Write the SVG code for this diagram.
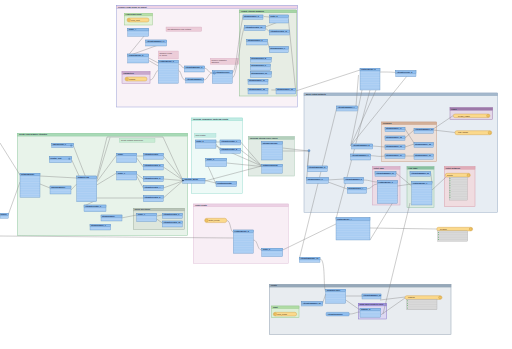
<svg xmlns="http://www.w3.org/2000/svg" width="512" height="349" viewBox="0 0 512 349">
<defs>
<pattern id="rows" patternUnits="userSpaceOnUse" width="8" height="2.4"><rect width="8" height="2.4" fill="#a9cdf3"/><line x1="0" y1="2.3" x2="8" y2="2.3" stroke="#d6e8fa" stroke-width="0.3"/></pattern>
<pattern id="attr" patternUnits="userSpaceOnUse" width="8" height="2.4"><rect width="8" height="2.4" fill="#d9d9d9"/><line x1="0" y1="2.3" x2="8" y2="2.3" stroke="#b0b0b0" stroke-width="0.25"/></pattern>
</defs>
<style>
.bk{stroke-width:.5}
.bt{font:bold 1.9px "Liberation Sans",sans-serif;fill:#203040}
.b{fill:url(#rows);stroke:#5f8fc0;stroke-width:.35}
.h{fill:#8ebdee;stroke:#5f8fc0;stroke-width:.35}
.n text{font:bold 1.8px "Liberation Sans",sans-serif;fill:#0c2448}
.y{fill:#fbd98c;stroke:#cf9c44;stroke-width:.4}
.yc{fill:#f2c464;stroke:#b88a30;stroke-width:.3}
.al{fill:url(#attr);stroke:#a0a0a0;stroke-width:.3}
.an text{font:1.8px "Liberation Sans",sans-serif;fill:#503040}
.yt{font:1.8px "Liberation Sans",sans-serif;fill:#503010}
.c path{fill:none;stroke:#808080;stroke-width:.4}
</style>

<!-- bookmarks -->
<g id="bm-top">
<rect class="bk" x="116.3" y="5.7" width="181" height="101.3" fill="#f9f2f7" stroke="#9aa0d8"/>
<rect x="116.3" y="5.7" width="181" height="2.8" fill="#eed2e6" stroke="#9aa0d8" stroke-width=".4"/>
<text class="bt" x="118" y="7.8">Prepare Flows Ready for Export</text>
</g>
<g id="bm-top-green">
<rect class="bk" x="239.3" y="10" width="57.4" height="86" fill="#e7ede4" stroke="#8fc090"/>
<rect x="239.3" y="10" width="57.4" height="2.8" fill="#a6d6a6" stroke="#8fc090" stroke-width=".4"/>
<text class="bt" x="241" y="12">Output Attribute Mapping</text>
</g>
<g id="bm-top-reader1">
<rect class="bk" x="124.3" y="13.3" width="28" height="11.7" fill="#e2f2d8" stroke="#9cc890"/>
<rect x="124.3" y="13.3" width="28" height="2.6" fill="#b8e0a8" stroke="#9cc890" stroke-width=".4"/>
<text class="bt" x="125.5" y="15.3">Flow Export Input</text>
</g>
<g id="bm-top-reader2">
<rect class="bk" x="122" y="71.7" width="28" height="11.6" fill="#eadcec" stroke="#b890c0"/>
<rect x="122" y="71.7" width="28" height="2.6" fill="#c8a8cc" stroke="#b890c0" stroke-width=".4"/>
<text class="bt" x="123.5" y="73.7">Parameters</text>
</g>
<g id="bm-left">
<rect class="bk" x="17.3" y="133.3" width="170.4" height="102" fill="#e8f3ea" stroke="#90c8a0"/>
<rect x="17.3" y="133.3" width="170.4" height="2.8" fill="#a8dab6" stroke="#90c8a0" stroke-width=".4"/>
<text class="bt" x="19" y="135.4">Create Flow Network Attributes</text>
</g>
<g id="bm-left-inner">
<rect class="bk" x="133.3" y="208.3" width="51" height="21" fill="#dde6dc" stroke="#a0b0a0"/>
<rect x="133.3" y="208.3" width="51" height="2.6" fill="#b8c4b8" stroke="#a0b0a0" stroke-width=".4"/>
<text class="bt" x="134.5" y="210.3">Check Directions</text>
</g>
<g id="bm-cyan">
<rect class="bk" x="191.3" y="118" width="51" height="75.3" fill="#eefaf7" stroke="#98dcd0"/>
<rect x="191.3" y="118" width="51" height="2.8" fill="#c2ece4" stroke="#98dcd0" stroke-width=".4"/>
<text class="bt" x="193" y="120">Calculate Cumulative Upstream Length</text>
</g>
<g id="bm-greygreen">
<rect class="bk" x="248.3" y="136.7" width="46" height="39.3" fill="#e2ebe5" stroke="#a8c8b4"/>
<rect x="248.3" y="136.7" width="46" height="2.8" fill="#b4d0bc" stroke="#a8c8b4" stroke-width=".4"/>
<text class="bt" x="250" y="138.7">Calculate Stream Order Values</text>
</g>
<g id="bm-pink">
<rect class="bk" x="193.3" y="204" width="95" height="59.3" fill="#f8eef5" stroke="#e0c0d8"/>
<rect x="193.3" y="204" width="95" height="2.8" fill="#ecd0e4" stroke="#e0c0d8" stroke-width=".4"/>
<text class="bt" x="195" y="206">Outlet Points</text>
</g>
<g id="bm-right">
<rect class="bk" x="304" y="93" width="193.7" height="119.3" fill="#e7edf3" stroke="#98acc4"/>
<rect x="304" y="93" width="193.7" height="2.8" fill="#a4b8cc" stroke="#98acc4" stroke-width=".4"/>
<text class="bt" x="306" y="95">Build Output Datasets</text>
</g>
<g id="bm-r-purple">
<rect class="bk" x="450" y="107.7" width="42.7" height="11.6" fill="#e4d8e8" stroke="#a080b0"/>
<rect x="450" y="107.7" width="42.7" height="2.6" fill="#9c78a8" stroke="#a080b0" stroke-width=".4"/>
<text class="bt" x="451.5" y="109.7">Lines</text>
</g>
<g id="bm-r-brown">
<rect class="bk" x="381.7" y="122" width="55" height="39.7" fill="#ece0da" stroke="#c8a088"/>
<rect x="381.7" y="122" width="55" height="2.6" fill="#d4b098" stroke="#c8a088" stroke-width=".4"/>
<text class="bt" x="383" y="124">Polygons</text>
</g>
<g id="bm-r-pink">
<rect class="bk" x="372.3" y="166.7" width="27.7" height="38.3" fill="#ecdce6" stroke="#d0a8c0"/>
<rect x="372.3" y="166.7" width="27.7" height="2.6" fill="#dcb4cc" stroke="#d0a8c0" stroke-width=".4"/>
<text class="bt" x="373.5" y="168.7">Outlet Tags</text>
</g>
<g id="bm-r-green">
<rect class="bk" x="407" y="166.7" width="27" height="40.6" fill="#dcebe2" stroke="#90c0a4"/>
<rect x="407" y="166.7" width="27" height="2.6" fill="#88c0a0" stroke="#90c0a4" stroke-width=".4"/>
<text class="bt" x="408.5" y="168.7">Line Tags</text>
</g>
<g id="bm-r-red">
<rect class="bk" x="444.3" y="166.7" width="30.7" height="40" fill="#f0dce0" stroke="#d8a0ac"/>
<rect x="444.3" y="166.7" width="30.7" height="2.6" fill="#e0acb8" stroke="#d8a0ac" stroke-width=".4"/>
<text class="bt" x="445.5" y="168.7">Outlet Networks</text>
</g>
<g id="bm-bottom">
<rect class="bk" x="269.3" y="284.3" width="181.7" height="50" fill="#e8ecf0" stroke="#90a0b0"/>
<rect x="269.3" y="284.3" width="181.7" height="2.8" fill="#96a8ba" stroke="#90a0b0" stroke-width=".4"/>
<text class="bt" x="271" y="286.4">Points</text>
</g>
<g id="bm-b-green">
<rect class="bk" x="271.7" y="306" width="27.3" height="11.7" fill="#dcefd6" stroke="#98c890"/>
<rect x="271.7" y="306" width="27.3" height="2.6" fill="#b0dca4" stroke="#98c890" stroke-width=".4"/>
<text class="bt" x="273" y="308">Input</text>
</g>
<g id="bm-b-purple">
<rect class="bk" x="358.3" y="303.3" width="28.4" height="15.7" fill="#ddd8f2" stroke="#8878c8"/>
<rect x="358.3" y="303.3" width="28.4" height="2.6" fill="#a898e0" stroke="#8878c8" stroke-width=".4"/>
<text class="bt" x="359.5" y="305.3">Snap Input Points to Lines</text>
</g>

<!-- annotations -->
<g id="an1" class="an"><rect x="166" y="27" width="35.7" height="4.3" fill="#ecccd8" stroke="#d0a0b8" stroke-width=".3"/><text x="167.5" y="29.8">Set attributes to Flow network</text></g>
<g id="an2" class="an"><rect x="158.3" y="51" width="20" height="8" fill="#ecccd8" stroke="#d0a0b8" stroke-width=".3"/><text x="159.5" y="53.8">Combine Flows</text><text x="159.5" y="56.3">by Group</text></g>
<g id="an3" class="an"><rect x="210.3" y="58.3" width="28.4" height="6" fill="#ecccd8" stroke="#d0a0b8" stroke-width=".3"/><text x="211.5" y="60.8">Remove unwanted</text><text x="211.5" y="63">attributes</text></g>
<g id="an4" class="an"><rect x="119.3" y="138.3" width="35.7" height="4" fill="#c8ecd4" stroke="#98d0ac" stroke-width=".3"/><text x="121" y="141">Create network connectivity</text></g>
<g id="an5" class="an"><rect x="194.3" y="133.3" width="21.7" height="4" fill="#c4ece4" stroke="#98d8cc" stroke-width=".3"/><text x="195.5" y="136">Sum lengths</text></g>

<!-- connectors -->
<g id="connectors" class="c">
<path d="M149,30 L127.7,56"/>
<path d="M166.7,42 L127.7,56"/>
<path d="M148.7,58 L158.3,63"/>
<path d="M148.7,60.5 L158.3,66"/>
<path d="M150,80 C154,80 155,72 158.3,70"/>
<path d="M178.3,64 C182,64 181,68 184.3,68"/>
<path d="M178.3,70 C182,72 181,80 185.7,80"/>
<path d="M204.3,68 C208,68 208,73 212.3,73"/>
<path d="M203.7,80 C208,80 208,73 212.3,73"/>
<path d="M232.3,73 C236,73 238,40 243,16.5"/>
<path d="M232.3,78 C237,76 240,40 244.3,27"/>
<path d="M264,16.5 L269.3,17"/>
<path d="M265.3,27 L288.3,18"/>
<path d="M265.3,28 L269.3,31.5"/>
<path d="M267.4,41 L269.3,48"/>
<path d="M288.3,19 L295.5,89"/>
<path d="M271.3,90 L276,90"/>
<path d="M295.7,91 L360,70"/>
<path d="M380,72 C388,72 390,72 395.7,72.5"/>
<path d="M358.5,75 L356,106"/>
<path d="M376,90 L350.7,145.7"/>
<path d="M407,76 L350.7,145.7"/>
<path d="M362,90 L350.7,145.7"/>
<path d="M336.7,108 L299.3,259"/>
<path d="M370,90 L336,219"/>
<path d="M320,259 C326,259 323,290 325.7,291"/>
<path d="M282.7,151 L309,151"/>
<path d="M282.7,148 L309,151"/>
<path d="M309,151 L307.3,167"/>
<path d="M309,151 L306.7,179"/>
<path d="M327.3,180 L344,179"/>
<path d="M328,182 L347.3,189"/>
<path d="M363.3,180 C370,180 372,182 377.3,182"/>
<path d="M366.7,189 C372,189 372,184 377.3,184"/>
<path d="M396,173 L411.7,186"/>
<path d="M397.3,186 L411.7,184"/>
<path d="M430.7,173 L432,183"/>
<path d="M432,190 L449.3,174"/>
<path d="M405,129 L414,143"/>
<path d="M405,138 L414,130"/>
<path d="M405,147 L414,144"/>
<path d="M405,156 L414,156"/>
<path d="M433.3,130 L455,132.5"/>
<path d="M433.3,129 L453.3,115.5"/>
<path d="M370.7,155.7 C376,155.7 378,157 385,156"/>
<path d="M372.7,146 L385,147"/>
<path d="M397.3,195 L370,240"/>
<path d="M370,228 L436.7,229"/>
<path d="M282.7,250 L336,224"/>
<path d="M410,203 L383,314"/>
<path d="M380,300 L405,297"/>
<path d="M345.7,296 L362,296"/>
<path d="M345.7,300 L360,310"/>
<path d="M322.7,303 L325.7,294"/>
<path d="M349.3,314 C355,314 356,312 360,312"/>
<path d="M380.7,315 L405,298"/>
<path d="M226.7,220.5 C231,220.5 230,232 233.3,232"/>
<path d="M253.3,240 C258,240 257,250 261.7,250"/>
<path d="M0,236 L233.3,238"/>
<path d="M0,143 L20,175"/>
<path d="M8.3,214.5 L20,182"/>
<path d="M40,176 L76.7,178"/>
<path d="M40,184 L50,188"/>
<path d="M71,190 L76.7,184"/>
<path d="M73.3,145.5 L86,178"/>
<path d="M71.6,159.7 L80,178"/>
<path d="M96.7,182 L116.7,155"/>
<path d="M96.7,185 L116.7,173"/>
<path d="M136.7,156 L143.3,156"/>
<path d="M136.7,158 L143.3,167"/>
<path d="M136.7,174 L143.3,179"/>
<path d="M136.7,176 L143.3,188"/>
<path d="M96.7,179 L107,137 L163,137 L182.7,180"/>
<path d="M96.7,181 L110,137.5"/>
<path d="M163.3,156 L182.7,180"/>
<path d="M163.3,167 L182.7,180"/>
<path d="M163.3,179 L182.7,180.5"/>
<path d="M163.3,188 L182.7,181"/>
<path d="M163.3,198 L182.7,181"/>
<path d="M96.7,198 L143.3,198"/>
<path d="M96.7,200 L84,206"/>
<path d="M111,220 L136.7,215"/>
<path d="M156.7,216 L162.3,215"/>
<path d="M156.7,219 L162.3,223"/>
<path d="M205,180.5 L216,183"/>
<path d="M205,181 L261.7,166"/>
<path d="M216,142 L220,142"/>
<path d="M216,144 L220,150"/>
<path d="M216,146 L261.7,166"/>
<path d="M240.7,142 L261.7,166"/>
<path d="M240.7,150 L261.7,166"/>
<path d="M226.7,163 L261.7,166.5"/>
<path d="M216,184 L205.7,161"/>
</g>

<!-- transformers -->
<g id="t-top-1" class="n" transform="translate(127.7,28.3)"><rect class="b" width="21" height="8"/><rect class="h" width="21" height="2.6"/><text x="1" y="2">Tester_4</text></g>
<g id="t-top-2" class="n" transform="translate(145.7,40)"><rect class="b" width="21" height="6"/><rect class="h" width="21" height="2.6"/><text x="1" y="2">AttributeManager_14</text></g>
<g id="t-top-3" class="n" transform="translate(127.7,54)"><rect class="b" width="21" height="9"/><rect class="h" width="21" height="2.6"/><text x="1" y="2">FeatureMerger_2</text></g>
<g id="t-top-4" class="n" transform="translate(158.3,60.3)"><rect class="b" width="20" height="23"/><rect class="h" width="20" height="2.6"/><text x="1" y="2">FeatureMerger_3</text></g>
<g id="t-top-5" class="n" transform="translate(184.3,66)"><rect class="b" width="20" height="6"/><rect class="h" width="20" height="2.6"/><text x="1" y="2">AttributeManager_3</text></g>
<g id="t-top-6" class="n" transform="translate(185.7,78)"><rect class="b" width="18" height="5"/><rect class="h" width="18" height="2.6"/><text x="1" y="2">AttributeManager_4</text></g>
<g id="t-top-7" class="n" transform="translate(212.3,70.7)"><rect class="b" width="20" height="12.7"/><rect class="h" width="20" height="2.6"/><text x="3.5" y="2">AttributeKeeper</text><circle cx="2" cy="2.3" r="1.2" fill="#6fa0d8" stroke="#3a6ea8" stroke-width=".3"/></g>
<g id="t-g-1" class="n" transform="translate(243,15)"><rect class="b" width="20" height="4.5"/><rect class="h" width="20" height="2.4"/><text x="1" y="1.9">StringReplacer_2</text></g>
<g id="t-g-2" class="n" transform="translate(269.3,15)"><rect class="b" width="19" height="8"/><rect class="h" width="19" height="2.4"/><text x="1" y="1.9">Tester_5</text></g>
<g id="t-g-3" class="n" transform="translate(244.3,25.7)"><rect class="b" width="21" height="5"/><rect class="h" width="21" height="2.4"/><text x="1" y="1.9">AttributeCreator_10</text></g>
<g id="t-g-4" class="n" transform="translate(269.3,30)"><rect class="b" width="20" height="5"/><rect class="h" width="20" height="2.4"/><text x="1" y="1.9">AttributeCreator_11</text></g>
<g id="t-g-5" class="n" transform="translate(246.7,39.3)"><rect class="b" width="20.7" height="5.7"/><rect class="h" width="20.7" height="2.4"/><text x="1" y="1.9">StringReplacer_6</text></g>
<g id="t-g-6" class="n" transform="translate(269.3,46.7)"><rect class="b" width="19" height="6"/><rect class="h" width="19" height="2.4"/><text x="1" y="1.9">StringReplacer_7</text></g>
<g id="t-g-7" class="n" transform="translate(250.3,57.3)"><rect class="b" width="21" height="5"/><rect class="h" width="21" height="2.4"/><text x="1" y="1.9">StringReplacer_8</text></g>
<g id="t-g-8" class="n" transform="translate(250.3,64)"><rect class="b" width="20" height="6.7"/><rect class="h" width="20" height="2.4"/><text x="1" y="1.9">StringReplacer_9</text></g>
<g id="t-g-9" class="n" transform="translate(250.3,71.7)"><rect class="b" width="21" height="5.7"/><rect class="h" width="21" height="2.4"/><text x="1" y="1.9">StringReplacer_10</text></g>
<g id="t-g-10" class="n" transform="translate(248,79.3)"><rect class="b" width="20" height="5"/><rect class="h" width="20" height="2.4"/><text x="1" y="1.9">StringReplacer_11</text></g>
<g id="t-g-11" class="n" transform="translate(248,88.3)"><rect class="b" width="20" height="5.7"/><rect class="h" width="20" height="2.4"/><text x="1" y="1.9">StringReplacer_12</text></g>
<g id="t-g-12" class="n" transform="translate(276,88.3)"><rect class="b" width="19.7" height="5.7"/><rect class="h" width="19.7" height="2.4"/><text x="1" y="1.9">StringReplacer_13</text></g>

<g id="t-tr-1" class="n" transform="translate(360,68.3)"><rect class="b" width="20" height="21.7"/><rect class="h" width="20" height="2.6"/><text x="1" y="2">FeatureMerger_5</text></g>
<g id="t-tr-2" class="n" transform="translate(395.7,70.7)"><rect class="b" width="20.3" height="6"/><rect class="h" width="20.3" height="2.6"/><text x="1" y="2">AttributeKeeper_2</text></g>

<g id="t-r-1" class="n" transform="translate(336.7,106)"><rect class="b" width="20.7" height="5"/><rect class="h" width="20.7" height="2.4"/><text x="1" y="1.9">AttributeManager_7</text></g>
<g id="t-r-2" class="n" transform="translate(351.7,144)"><rect class="b" width="21" height="5"/><rect class="h" width="21" height="2.4"/><text x="1" y="1.9">AttributeManager_8</text></g>
<g id="t-r-3" class="n" transform="translate(350.7,154)"><rect class="b" width="20" height="6"/><rect class="h" width="20" height="2.4"/><text x="1" y="1.9">AttributeManager_9</text></g>
<g id="t-r-4" class="n" transform="translate(307.3,166)"><rect class="b" width="20" height="5.7"/><rect class="h" width="20" height="2.4"/><text x="1" y="1.9">AttributeManager_5</text></g>
<g id="t-r-5" class="n" transform="translate(306.7,177.7)"><rect class="b" width="21.7" height="5.7"/><rect class="h" width="21.7" height="2.4"/><text x="1" y="1.9">StringReplacer_3</text></g>
<g id="t-r-6" class="n" transform="translate(344,177.7)"><rect class="b" width="19.3" height="5.7"/><rect class="h" width="19.3" height="2.4"/><text x="1" y="1.9">AttributeManager_6</text></g>
<g id="t-r-7" class="n" transform="translate(347.3,187.3)"><rect class="b" width="19.3" height="6"/><rect class="h" width="19.3" height="2.4"/><text x="1" y="1.9">StringReplacer_4</text></g>
<g id="junction-1" class="n"><circle cx="309" cy="150.7" r="1.1" fill="#6fa0d8" stroke="#3a6ea8" stroke-width=".3"/></g>
<g id="t-br-1" class="n" transform="translate(385,127.3)"><rect class="b" width="20" height="4.5"/><rect class="h" width="20" height="2.4"/><text x="1" y="1.9">StringReplacer_14</text></g>
<g id="t-br-2" class="n" transform="translate(385,136)"><rect class="b" width="20" height="4.5"/><rect class="h" width="20" height="2.4"/><text x="1" y="1.9">StringReplacer_15</text></g>
<g id="t-br-3" class="n" transform="translate(385,145)"><rect class="b" width="20" height="4.5"/><rect class="h" width="20" height="2.4"/><text x="1" y="1.9">StringReplacer_16</text></g>
<g id="t-br-4" class="n" transform="translate(385,154)"><rect class="b" width="20" height="4.5"/><rect class="h" width="20" height="2.4"/><text x="1" y="1.9">StringReplacer_17</text></g>
<g id="t-br-5" class="n" transform="translate(414,128.3)"><rect class="b" width="19.3" height="5"/><rect class="h" width="19.3" height="2.4"/><text x="1" y="1.9">AttributeManager_10</text></g>
<g id="t-br-6" class="n" transform="translate(414,142.7)"><rect class="b" width="19.3" height="4.7"/><rect class="h" width="19.3" height="2.4"/><text x="1" y="1.9">StringReplacer_18</text></g>
<g id="t-br-7" class="n" transform="translate(414,154)"><rect class="b" width="19.3" height="5.3"/><rect class="h" width="19.3" height="2.4"/><text x="1" y="1.9">StringReplacer_19</text></g>
<g id="t-pk-1" class="n" transform="translate(375,171.7)"><rect class="b" width="21" height="4.5"/><rect class="h" width="21" height="2.4"/><text x="1" y="1.9">AttributeManager_11</text></g>
<g id="t-pk-2" class="n" transform="translate(377.3,180.7)"><rect class="b" width="20" height="22.7"/><rect class="h" width="20" height="2.4"/><text x="1" y="1.9">FeatureMerger_6</text></g>
<g id="t-gr-1" class="n" transform="translate(410,171.7)"><rect class="b" width="20.7" height="4.5"/><rect class="h" width="20.7" height="2.4"/><text x="1" y="1.9">AttributeManager_12</text></g>
<g id="t-gr-2" class="n" transform="translate(411.7,181.7)"><rect class="b" width="20.3" height="23.3"/><rect class="h" width="20.3" height="2.4"/><text x="1" y="1.9">FeatureMerger_7</text></g>

<g id="t-mid-1" class="n" transform="translate(336,217.7)"><rect class="b" width="34" height="22.3"/><rect class="h" width="34" height="2.6"/><text x="1" y="2">FeatureMerger_4</text></g>
<g id="t-mid-2" class="n" transform="translate(299.3,257.3)"><rect class="b" width="20.7" height="5"/><rect class="h" width="20.7" height="2.4"/><text x="1" y="1.9">AttributeManager_13</text></g>

<g id="t-b-1" class="n" transform="translate(325.7,289.3)"><rect class="b" width="20" height="14"/><rect class="h" width="20" height="2.4"/><text x="1" y="1.9">NeighborFinder</text></g>
<g id="t-b-2" class="n" transform="translate(301.7,301.7)"><rect class="b" width="21" height="4.3"/><rect class="h" width="21" height="2.4"/><text x="1" y="1.9">AttributeManager_15</text></g>
<g id="t-b-3" class="n" transform="translate(362,294)"><rect class="b" width="19" height="5"/><rect class="h" width="19" height="2.4"/><text x="1" y="1.9">AttributeManager_16</text></g>
<g id="t-b-4" class="n" transform="translate(326,312.3)"><rect class="h" width="23.3" height="3.7" rx="1.2"/><text x="1.5" y="2.5">AttributeRemover</text></g>
<g id="t-b-5" class="n" transform="translate(360,308.3)"><rect class="b" width="20.7" height="9"/><rect class="h" width="20.7" height="2.4"/><text x="1" y="1.9">Snapper_2</text></g>

<g id="t-pl-1" class="n" transform="translate(233.3,230)"><rect class="b" width="20" height="23.3"/><rect class="h" width="20" height="2.4"/><text x="1" y="1.9">FeatureMerger_8</text></g>
<g id="t-pl-2" class="n" transform="translate(261.7,248.3)"><rect class="b" width="21" height="8.3"/><rect class="h" width="21" height="2.4"/><text x="1" y="1.9">Tester_6</text></g>

<g id="t-c-1" class="n" transform="translate(195.3,140)"><rect class="b" width="20.7" height="8.3"/><rect class="h" width="20.7" height="2.4"/><text x="1" y="1.9">Tester_2</text></g>
<g id="t-c-2" class="n" transform="translate(220,140)"><rect class="b" width="20.7" height="5"/><rect class="h" width="20.7" height="2.4"/><text x="1" y="1.9">AttributeCreator_7</text></g>
<g id="t-c-3" class="n" transform="translate(220,148.3)"><rect class="b" width="20.7" height="5"/><rect class="h" width="20.7" height="2.4"/><text x="1" y="1.9">AttributeCreator_8</text></g>
<g id="t-c-4" class="n" transform="translate(205.7,158.3)"><rect class="b" width="21" height="8.3"/><rect class="h" width="21" height="2.4"/><text x="1" y="1.9">Tester_3</text></g>
<g id="t-c-5" class="n" transform="translate(216,181.7)"><rect class="b" width="20.7" height="5"/><rect class="h" width="20.7" height="2.4"/><text x="1" y="1.9">LengthCalculator</text></g>
<g id="t-gg-1" class="n" transform="translate(261.7,141.7)"><rect class="b" width="20.7" height="18.3"/><rect class="h" width="20.7" height="2.4"/><text x="1" y="1.9">StreamOrderCalc</text></g>
<g id="t-gg-2" class="n" transform="translate(261.7,164.3)"><rect class="b" width="20.7" height="9"/><rect class="h" width="20.7" height="2.4"/><text x="1" y="1.9">NetworkTopology</text></g>

<g id="t-l-1" class="n" transform="translate(51.7,143.3)"><rect class="b" width="21.7" height="4.3"/><rect class="h" width="21.7" height="2.4"/><text x="1" y="1.9">SQLExecutor_1</text><circle cx="19.5" cy="2.1" r="1" fill="#5f8fc0"/></g>
<g id="t-l-2" class="n" transform="translate(49.3,156.7)"><rect class="b" width="22.3" height="6"/><rect class="h" width="22.3" height="2.4"/><text x="1" y="1.9">Creator_Test</text><circle cx="20" cy="2.1" r="1" fill="#5f8fc0"/></g>
<g id="t-l-3" class="n" transform="translate(20,173.3)"><rect class="b" width="20" height="24"/><rect class="h" width="20" height="2.4"/><text x="1" y="1.9">NetworkBuilder</text></g>
<g id="t-l-4" class="n" transform="translate(50,186)"><rect class="b" width="21" height="8"/><rect class="h" width="21" height="2.4"/><text x="1" y="1.9">TopologyBuilder</text></g>
<g id="t-l-5" class="n" transform="translate(76.7,176)"><rect class="b" width="20" height="25.7"/><rect class="h" width="20" height="2.4"/><text x="1" y="1.9">NetworkFlow</text></g>
<g id="t-l-6" class="n" transform="translate(116.7,153.3)"><rect class="b" width="20" height="9.3"/><rect class="h" width="20" height="2.4"/><text x="1" y="1.9">Tester</text></g>
<g id="t-l-7" class="n" transform="translate(116.7,171.7)"><rect class="b" width="20" height="8.3"/><rect class="h" width="20" height="2.4"/><text x="1" y="1.9">Tester_1</text></g>
<g id="t-l-8" class="n" transform="translate(143.3,153.3)"><rect class="b" width="20" height="6"/><rect class="h" width="20" height="2.4"/><text x="1" y="1.9">AttributeCreator</text></g>
<g id="t-l-9" class="n" transform="translate(143.3,164.3)"><rect class="b" width="20" height="5.7"/><rect class="h" width="20" height="2.4"/><text x="1" y="1.9">AttributeCreator_2</text></g>
<g id="t-l-10" class="n" transform="translate(143.3,176.7)"><rect class="b" width="20" height="5"/><rect class="h" width="20" height="2.4"/><text x="1" y="1.9">AttributeCreator_3</text></g>
<g id="t-l-11" class="n" transform="translate(143.3,185.7)"><rect class="b" width="20" height="5"/><rect class="h" width="20" height="2.4"/><text x="1" y="1.9">AttributeCreator_4</text></g>
<g id="t-l-12" class="n" transform="translate(143.3,195.7)"><rect class="b" width="20" height="6"/><rect class="h" width="20" height="2.4"/><text x="1" y="1.9">AttributeCreator_5</text></g>
<g id="t-l-13" class="n" transform="translate(84,205)"><rect class="b" width="22" height="6.7"/><rect class="h" width="22" height="2.4"/><text x="1" y="1.9">AttributeCreator_6</text></g>
<g id="t-l-14" class="n" transform="translate(101,215)"><rect class="b" width="21" height="6"/><rect class="h" width="21" height="2.4"/><text x="1" y="1.9">StringReplacer</text></g>
<g id="t-l-15" class="n" transform="translate(90,224.3)"><rect class="b" width="20.7" height="5.7"/><rect class="h" width="20.7" height="2.4"/><text x="1" y="1.9">StringReplacer_1</text></g>
<g id="t-l-16" class="n" transform="translate(136.7,213.3)"><rect class="b" width="20" height="8.3"/><rect class="h" width="20" height="2.4"/><text x="1" y="1.9">Tester_7</text></g>
<g id="t-l-17" class="n" transform="translate(162.3,213.3)"><rect class="b" width="20" height="5"/><rect class="h" width="20" height="2.4"/><text x="1" y="1.9">AttributeCreator_9</text></g>
<g id="t-l-18" class="n" transform="translate(162.3,221)"><rect class="b" width="20" height="6"/><rect class="h" width="20" height="2.4"/><text x="1" y="1.9">AttributeCreator_12</text></g>
<g id="t-l-19" class="n" transform="translate(182.7,178.3)"><rect class="b" width="22.3" height="5"/><rect class="h" width="22.3" height="2.4"/><text x="1.5" y="1.9">Junction_Merge</text><circle cx="0.3" cy="2.2" r=".8" fill="#203858"/></g>
<g id="t-edge-1" class="n" transform="translate(0,213.3)"><rect class="b" width="8.3" height="5"/><rect class="h" width="8.3" height="2.4"/><text x="0.6" y="1.9">Source</text></g>

<!-- readers / writers -->
<g id="rd-1"><rect class="y" x="127" y="18" width="22" height="4" rx="2"/><text class="yt" x="131" y="20.7">Flow_Input</text><circle class="yc" cx="129" cy="20" r="1.4"/></g>
<g id="rd-2"><rect class="y" x="125" y="77" width="22" height="4" rx="2"/><text class="yt" x="129" y="79.7">Params</text><circle class="yc" cx="127" cy="79" r="1.4"/></g>
<g id="rd-3"><rect class="y" x="204.7" y="218.3" width="22" height="4.3" rx="2"/><text class="yt" x="208.5" y="221">Outlet_Points</text><circle class="yc" cx="206.7" cy="220.4" r="1.4"/></g>
<g id="rd-4"><rect class="y" x="273.3" y="312.3" width="23.3" height="3.7" rx="1.8"/><text class="yt" x="277" y="314.8">Input_Points</text><circle class="yc" cx="275.2" cy="314.1" r="1.3"/></g>
<g id="wr-1"><rect class="y" x="453.3" y="114" width="36.7" height="3.6" rx="1.8"/><text class="yt" x="458" y="116.5">RIVER_LINES</text><circle class="yc" cx="488" cy="115.8" r="1.4"/></g>
<g id="wr-2"><rect class="y" x="455" y="130.7" width="36.7" height="4" rx="1.8"/><text class="yt" x="458" y="133.3">POLYGONS</text><circle class="yc" cx="489.7" cy="132.7" r="1.5"/></g>
<g id="wr-3"><rect class="y" x="445.3" y="173.3" width="25" height="3.8" rx="1.8"/><text class="yt" x="447" y="175.9">Outlets</text><circle class="yc" cx="468.4" cy="175.2" r="1.4"/><rect class="al" x="449.3" y="177.1" width="18" height="23"/><g fill="#2a9a3a"><rect x="449.6" y="178" width=".7" height=".7"/><rect x="449.6" y="180.4" width=".7" height=".7"/><rect x="449.6" y="182.8" width=".7" height=".7"/><rect x="449.6" y="185.2" width=".7" height=".7"/><rect x="449.6" y="187.6" width=".7" height=".7"/><rect x="449.6" y="190" width=".7" height=".7"/><rect x="449.6" y="192.4" width=".7" height=".7"/><rect x="449.6" y="194.8" width=".7" height=".7"/><rect x="449.6" y="197.2" width=".7" height=".7"/></g></g>
<g id="wr-4"><rect class="y" x="436.7" y="227.3" width="36" height="3.6" rx="1.8"/><text class="yt" x="440" y="229.8">RIVERS</text><circle class="yc" cx="470.7" cy="229.1" r="1.4"/><rect class="al" x="437.7" y="230.9" width="30" height="10.3"/><g fill="#2a9a3a"><rect x="438" y="232" width=".7" height=".7"/><rect x="438" y="234.4" width=".7" height=".7"/><rect x="438" y="236.8" width=".7" height=".7"/><rect x="438" y="239.2" width=".7" height=".7"/></g></g>
<g id="wr-5"><rect class="y" x="405" y="295.7" width="37" height="3.7" rx="1.8"/><text class="yt" x="408" y="298.2">POINTS</text><circle class="yc" cx="440" cy="297.5" r="1.4"/><rect class="al" x="406.7" y="299.4" width="30.3" height="10.3"/><g fill="#2a9a3a"><rect x="407" y="300.5" width=".7" height=".7"/><rect x="407" y="302.9" width=".7" height=".7"/><rect x="407" y="305.3" width=".7" height=".7"/><rect x="407" y="307.7" width=".7" height=".7"/></g></g>
</svg>
